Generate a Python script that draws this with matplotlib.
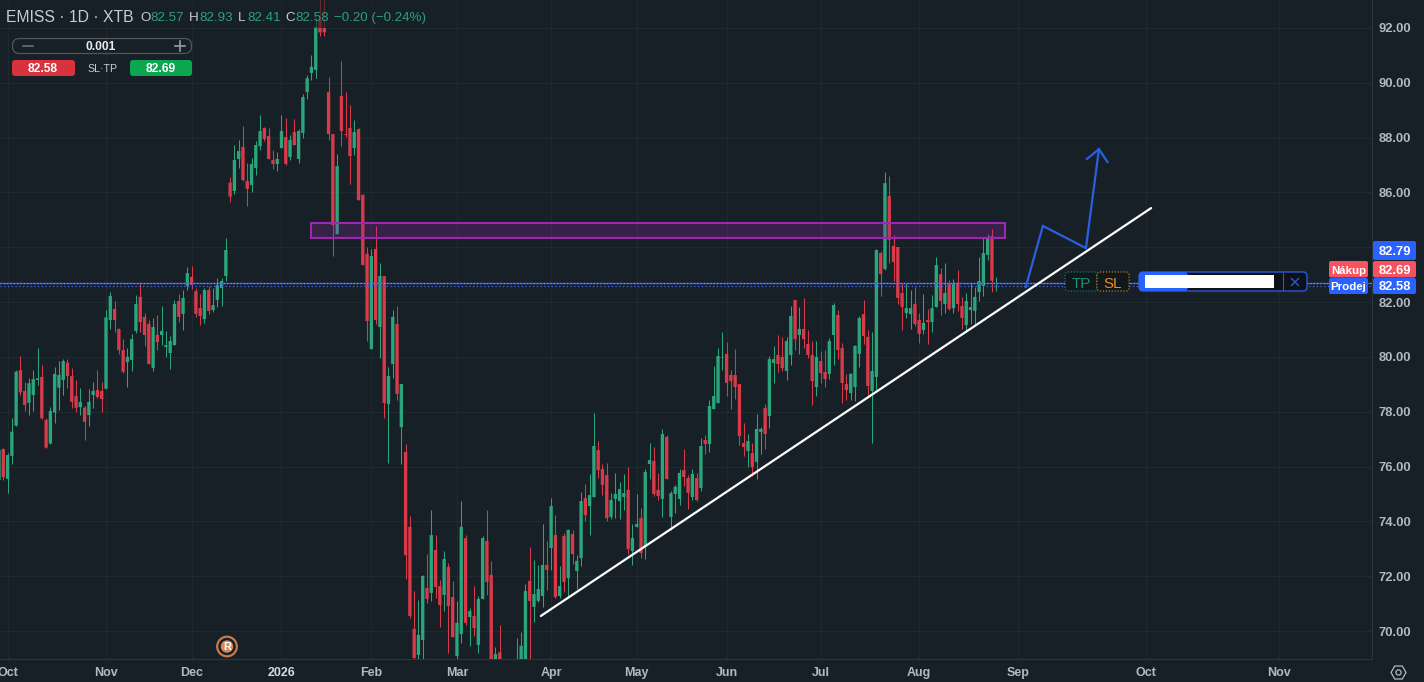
#!/usr/bin/env python3
# -*- coding: utf-8 -*-
"""EMISS 1D candles with the trading overlay, saved as out.png."""

import matplotlib

matplotlib.use("Agg")
import matplotlib.pyplot as plt
import numpy as np
from matplotlib.patches import Circle, FancyBboxPatch, Rectangle, RegularPolygon

opens = [
    75.51, 76.64, 75.55, 76.39, 77.49, 79.52, 78.76, 78.33, 78.61, 79.16, 79.27, 77.70, 76.84, 77.97, 78.88, 79.16,
    79.79, 79.30, 78.57, 78.17, 78.15, 77.88, 78.61, 78.79, 78.76, 78.84, 81.35, 81.75, 81.02, 80.25, 79.81, 79.89,
    80.95, 82.19, 81.46, 81.20, 79.60, 80.80, 80.80, 80.36, 80.14, 80.43, 82.04, 81.57, 82.59, 82.92, 82.40, 81.78,
    81.38, 82.44, 81.71, 82.08, 82.51, 82.95, 86.36, 86.05, 87.22, 87.66, 86.42, 86.27, 86.89, 87.69, 88.35, 88.06,
    87.18, 87.04, 87.62, 88.02, 87.29, 88.20, 87.22, 88.17, 89.66, 90.36, 90.47, 92.29, 92.00, 89.66, 88.13, 84.48,
    89.52, 88.13, 88.35, 87.62, 88.31, 85.91, 83.76, 80.29, 83.94, 81.09, 82.95, 78.28, 79.74, 81.20, 77.44, 76.53,
    73.80, 70.08, 69.13, 69.67, 71.57, 71.39, 72.96, 71.64, 71.32, 72.34, 71.24, 69.09, 69.89, 73.39, 70.51, 70.55,
    69.49, 71.17, 73.29, 72.05, 68.70, 69.23, 68.70, 68.00, 68.10, 68.30, 68.70, 68.70, 71.83, 70.88, 71.10, 71.28,
    72.41, 73.03, 73.50, 71.28, 73.47, 71.93, 73.54, 72.19, 72.66, 74.85, 74.56, 74.89, 76.60, 75.91, 75.69, 74.16,
    74.82, 74.74, 74.89, 75.15, 72.92, 73.80, 74.12, 73.07, 76.09, 76.20, 75.15, 74.82, 77.08, 74.16, 75.00, 74.82,
    75.87, 75.58, 74.89, 75.58, 75.22, 76.97, 76.82, 78.10, 78.32, 79.96, 80.11, 79.34, 79.34, 79.01, 76.86, 76.57,
    76.49, 76.17, 77.26, 78.14, 77.84, 79.78, 80.07, 80.00, 79.49, 80.07, 82.08, 80.80, 81.02, 80.47, 80.07, 78.90,
    79.85, 79.45, 79.38, 80.80, 81.53, 80.32, 79.01, 78.68, 78.90, 80.11, 81.56, 80.73, 78.76, 79.27, 83.79, 83.21,
    85.87, 84.05, 84.01, 82.33, 81.60, 81.56, 81.93, 81.35, 80.98, 81.35, 81.27, 81.82, 83.02, 81.93, 82.66, 81.78,
    82.70, 81.86, 81.16, 81.71, 81.68, 82.37, 82.59, 83.72, 84.41, 82.57,
]
highs = [
    76.60, 76.67, 76.48, 77.76, 79.52, 80.03, 79.10, 79.22, 79.52, 80.33, 79.71, 77.76, 78.19, 79.62, 79.85, 79.91,
    79.91, 79.58, 79.16, 78.87, 78.21, 78.83, 79.07, 79.52, 79.08, 81.71, 82.37, 82.04, 81.05, 80.65, 80.33, 80.84,
    82.26, 82.71, 81.59, 81.35, 81.42, 81.53, 81.86, 80.95, 80.76, 82.08, 82.30, 82.44, 83.28, 83.32, 82.51, 82.30,
    82.51, 82.59, 82.50, 82.88, 82.88, 84.34, 86.58, 87.73, 87.91, 88.42, 87.06, 87.26, 87.88, 88.82, 88.39, 88.35,
    87.55, 87.47, 88.82, 88.72, 88.09, 88.68, 88.31, 89.59, 90.28, 91.01, 92.40, 93.20, 93.20, 90.21, 88.13, 87.40,
    90.79, 89.66, 89.19, 88.64, 88.35, 85.94, 84.02, 83.94, 84.78, 83.43, 82.95, 79.63, 81.71, 81.86, 79.01, 76.82,
    74.19, 71.46, 71.13, 72.05, 72.81, 74.42, 73.50, 71.86, 72.92, 72.48, 71.83, 71.10, 74.74, 73.50, 70.84, 71.64,
    71.28, 73.47, 74.42, 72.56, 69.42, 70.22, 68.90, 68.80, 68.90, 69.73, 69.97, 71.72, 73.07, 72.59, 72.41, 73.91,
    73.29, 74.85, 74.23, 72.37, 73.58, 73.72, 73.69, 72.77, 75.07, 75.36, 75.73, 77.95, 76.93, 76.09, 76.13, 75.03,
    75.77, 75.44, 75.73, 75.98, 73.91, 74.99, 74.49, 75.91, 76.86, 76.71, 75.77, 77.37, 77.15, 75.11, 75.33, 75.91,
    76.64, 75.69, 75.91, 75.77, 77.04, 77.15, 78.43, 79.67, 80.32, 80.91, 80.54, 79.52, 80.29, 79.01, 77.59, 77.19,
    76.86, 77.92, 77.44, 78.28, 80.03, 80.40, 80.80, 80.73, 80.73, 81.86, 82.08, 81.82, 82.15, 80.98, 80.58, 80.58,
    80.22, 80.25, 80.69, 81.97, 81.71, 80.51, 79.38, 79.41, 80.43, 81.49, 82.08, 80.98, 80.91, 83.94, 83.86, 86.75,
    86.60, 84.45, 84.01, 82.70, 82.70, 82.44, 82.55, 81.60, 82.30, 81.75, 82.26, 83.64, 83.24, 83.43, 82.81, 82.84,
    83.17, 82.19, 82.33, 82.70, 82.55, 83.64, 84.34, 84.48, 84.67, 82.93,
]
lows = [
    74.60, 75.51, 75.02, 76.09, 77.49, 78.61, 78.03, 77.88, 78.03, 78.98, 77.72, 76.69, 76.84, 77.60, 78.06, 78.61,
    78.85, 78.15, 77.99, 77.88, 76.97, 77.48, 78.15, 78.50, 77.99, 78.84, 81.02, 80.91, 80.11, 79.41, 78.90, 79.49,
    80.87, 80.91, 80.40, 79.74, 79.49, 80.25, 80.43, 80.00, 79.56, 80.43, 81.27, 80.98, 82.44, 82.48, 81.46, 81.16,
    81.24, 81.57, 81.64, 81.82, 81.86, 82.77, 85.66, 85.94, 86.89, 86.42, 85.51, 86.02, 86.64, 87.55, 87.88, 87.22,
    86.85, 86.78, 87.62, 87.00, 87.18, 87.73, 87.07, 87.99, 89.41, 90.10, 90.17, 91.71, 91.71, 87.91, 83.68, 84.48,
    87.69, 88.03, 86.31, 87.37, 85.72, 83.35, 80.58, 80.29, 81.20, 79.96, 77.77, 76.13, 79.23, 78.43, 76.10, 71.90,
    70.48, 68.90, 68.90, 68.90, 71.02, 71.09, 71.21, 70.15, 70.73, 69.20, 69.78, 68.98, 69.56, 70.22, 69.45, 69.82,
    69.20, 71.17, 71.32, 68.60, 68.50, 68.50, 67.90, 67.80, 67.90, 68.10, 68.50, 68.50, 68.50, 70.33, 71.06, 70.88,
    71.50, 72.23, 71.21, 71.21, 71.42, 71.21, 72.45, 71.53, 72.37, 74.01, 73.50, 74.89, 75.58, 74.96, 74.01, 74.09,
    74.12, 74.09, 74.42, 72.81, 72.41, 73.80, 72.66, 72.63, 75.55, 74.93, 74.78, 74.16, 75.55, 73.69, 74.31, 74.60,
    75.29, 74.45, 74.78, 74.74, 75.11, 76.46, 76.53, 78.10, 78.32, 79.52, 78.57, 78.10, 78.46, 76.79, 76.38, 75.98,
    75.65, 75.55, 76.46, 76.64, 77.41, 79.05, 79.45, 79.49, 79.16, 79.70, 80.25, 80.11, 80.32, 79.96, 78.25, 78.57,
    79.05, 78.90, 79.19, 79.70, 79.92, 78.32, 78.43, 78.43, 78.39, 79.63, 80.47, 78.61, 76.86, 78.79, 82.22, 83.17,
    83.43, 82.77, 81.93, 80.98, 81.42, 81.02, 81.13, 80.51, 80.84, 80.47, 80.91, 81.82, 81.53, 81.60, 81.71, 81.60,
    81.68, 81.02, 80.91, 81.20, 81.16, 82.04, 82.22, 83.53, 82.37, 82.41,
]
closes = [
    76.60, 75.61, 76.42, 77.27, 79.46, 78.71, 78.25, 79.04, 79.19, 79.22, 77.76, 76.69, 78.03, 79.38, 79.34, 79.85,
    79.30, 78.36, 78.14, 78.36, 77.63, 78.36, 78.76, 78.54, 78.46, 81.44, 82.22, 81.35, 80.25, 79.46, 80.00, 80.65,
    81.93, 81.27, 80.80, 79.74, 81.09, 80.54, 80.95, 80.43, 80.58, 81.93, 81.46, 82.15, 83.06, 82.62, 81.57, 81.49,
    82.44, 81.68, 81.89, 82.62, 82.77, 83.90, 85.85, 87.18, 87.51, 86.45, 86.13, 87.04, 87.73, 88.24, 87.95, 87.22,
    87.04, 87.22, 88.24, 87.04, 87.91, 87.73, 88.24, 89.48, 90.17, 90.58, 92.05, 91.84, 91.84, 88.13, 84.81, 86.96,
    88.24, 88.10, 87.33, 88.20, 85.72, 83.35, 81.31, 83.68, 81.35, 82.95, 78.32, 79.30, 81.46, 78.65, 79.01, 72.77,
    70.55, 69.02, 69.86, 72.01, 71.17, 73.50, 71.61, 70.95, 72.63, 70.91, 69.78, 70.30, 73.80, 70.30, 70.73, 70.11,
    71.17, 73.39, 71.79, 68.70, 69.16, 68.80, 68.10, 68.50, 68.60, 68.80, 69.46, 71.46, 71.10, 71.35, 71.53, 72.41,
    72.23, 74.56, 71.24, 71.64, 71.79, 73.69, 72.81, 72.56, 74.74, 74.23, 74.96, 76.75, 75.87, 75.33, 74.12, 74.78,
    75.00, 75.18, 75.03, 72.99, 73.39, 73.91, 72.85, 75.80, 76.24, 75.00, 74.93, 77.19, 75.55, 75.03, 75.26, 75.77,
    75.62, 75.04, 75.73, 74.78, 76.75, 76.82, 78.21, 78.57, 80.03, 79.98, 79.05, 79.12, 78.90, 77.11, 76.71, 76.93,
    75.98, 77.37, 77.37, 77.19, 79.92, 79.92, 79.74, 79.59, 80.58, 81.49, 80.65, 81.02, 80.65, 80.07, 79.12, 80.00,
    79.41, 79.19, 80.58, 81.89, 80.25, 79.05, 78.79, 79.38, 80.40, 81.42, 80.76, 78.94, 79.49, 83.90, 83.02, 86.34,
    84.27, 83.46, 82.15, 81.82, 81.78, 81.78, 81.20, 80.84, 81.24, 81.27, 81.78, 83.35, 82.04, 82.33, 81.75, 82.70,
    81.93, 81.42, 82.04, 81.82, 82.19, 82.77, 83.79, 84.37, 82.78, 82.58,
]

month_positions = [2, 25, 45, 66, 87, 107, 129, 149, 170, 192, 215, 238, 268, 299]
month_labels = ["Oct", "Nov", "Dec", "2026", "Feb", "Mar", "Apr", "May", "Jun", "Jul", "Aug", "Sep", "Oct", "Nov"]
price_ticks = [70, 72, 74, 76, 78, 80, 82, 84, 86, 88, 90, 92]
hidden_price_labels = [84]  # sits under the 82.79 tag in the terminal

ask_price = 82.69
bid_price = 82.58

zone_x = [72.9, 235.0]
zone_y = [84.32, 84.90]
trend_x = [126.6, 269.2]
trend_y = [70.55, 85.43]
path_x = [239.9, 243.9, 253.96, 257.0]
path_y = [82.55, 84.78, 83.97, 87.58]
arrow_x = [254.2, 257.0, 259.0]
arrow_y = [87.22, 87.58, 87.11]

BG = "#172026"
GRID = "#1f2a30"
EDGE = "#2b353b"
UP = "#2ba57b"
DOWN = "#d93a4a"
BLUE = "#2962ff"
LINE_BLUE = "#2a5fe0"
LABEL = "#b4b8bf"
FONT = "Liberation Sans"

plt.rcParams["font.family"] = [FONT, "DejaVu Sans"]


def px(size):
    return size * 0.72


def draw_candles(ax):
    x = np.arange(len(opens))
    o, h, l, c = map(np.array, (opens, highs, lows, closes))
    colors = np.where(c >= o, UP, DOWN)
    ax.vlines(x, l, h, colors=colors, linewidth=0.75, zorder=3)
    bars = ax.bar(x, np.abs(c - o), bottom=np.minimum(o, c), width=0.78, color=colors, linewidth=0, zorder=4)
    for bar in bars:
        bar.set_snap(False)


def draw_chart(fig):
    ax = fig.add_axes([0, 23 / 682, 1372 / 1424, 659 / 682])
    ax.set_facecolor(BG)
    ax.set_xlim(0.229, 320.8)
    ax.set_ylim(68.98, 93.02)
    ax.grid(True, color=GRID, linewidth=0.8, zorder=0)
    ax.set_axisbelow(True)
    for side in ("top", "left"):
        ax.spines[side].set_visible(False)
    for side in ("right", "bottom"):
        ax.spines[side].set_color(EDGE)
        ax.spines[side].set_linewidth(0.8)

    ax.set_xticks(month_positions)
    ax.set_xticklabels(month_labels, fontsize=px(12.5), color=LABEL, fontweight="bold")
    for tick in ax.get_xticklabels():
        if tick.get_text() == "2026":
            tick.set_color("#d8dadd")
    ax.yaxis.tick_right()
    ax.set_yticks(price_ticks)
    ax.set_yticklabels(
        ["" if v in hidden_price_labels else f"{v:.2f}" for v in price_ticks],
        fontsize=px(13),
        color=LABEL,
        fontweight="bold",
        va="center_baseline",
    )
    ax.tick_params(axis="x", length=0, pad=6)
    ax.tick_params(axis="y", length=0, pad=5)

    draw_candles(ax)

    ax.add_patch(
        Rectangle(
            (zone_x[0], zone_y[0]),
            zone_x[1] - zone_x[0],
            zone_y[1] - zone_y[0],
            facecolor="#9c27b0",
            alpha=0.25,
            linewidth=0,
            zorder=5,
        )
    )
    ax.add_patch(
        Rectangle(
            (zone_x[0], zone_y[0]),
            zone_x[1] - zone_x[0],
            zone_y[1] - zone_y[0],
            facecolor="none",
            edgecolor="#9c27b0",
            linewidth=1.5,
            zorder=5,
        )
    )

    ax.axhline(ask_price, color="#3f51d6", linewidth=1.0, zorder=6)
    ax.axhline(ask_price, color="#9a9af5", linewidth=0.8, linestyle=(0, (1, 2)), zorder=6)
    ax.axhline(bid_price, color="#3d6bf0", linewidth=0.9, linestyle=(0, (1, 2)), zorder=6)

    ax.plot(trend_x, trend_y, color="white", linewidth=1.6, solid_capstyle="round", zorder=7)
    ax.plot(path_x, path_y, color=LINE_BLUE, linewidth=1.6, solid_joinstyle="miter", zorder=7)
    ax.plot(arrow_x, arrow_y, color=LINE_BLUE, linewidth=1.6, solid_joinstyle="miter", zorder=7)
    return ax


def rounded(ov, x0, y0, x1, y1, r, **kw):
    ov.add_patch(
        FancyBboxPatch(
            (x0 + r, y0 + r),
            x1 - x0 - 2 * r,
            y1 - y0 - 2 * r,
            boxstyle=f"round,pad={r},rounding_size={r}",
            **kw,
        )
    )


def label(ov, x, y, s, size, color, weight="normal", ha="center"):
    ov.text(x, y, s, fontsize=px(size), color=color, fontweight=weight, ha=ha, va="center_baseline")


def draw_overlay(fig):
    ov = fig.add_axes([0, 0, 1, 1], facecolor="none")
    ov.set_xlim(0, 1424)
    ov.set_ylim(682, 0)
    ov.axis("off")

    # header with a faded strip under it
    ov.add_patch(Rectangle((0, 0), 430, 28, facecolor=BG, alpha=0.6, linewidth=0))
    label(ov, 6, 16, "EMISS · 1D · XTB", 15.8, "#c8ccd2", ha="left")
    green = "#2f9e78"
    for x, s, c in [
        (140, "O", "#c8ccd2"),
        (150, "82.57", green),
        (189, "H", "#c8ccd2"),
        (199, "82.93", green),
        (238, "L", "#c8ccd2"),
        (247, "82.41", green),
        (285, "C", "#c8ccd2"),
        (295, "82.58", green),
        (334, "−0.20 (−0.24%)", green),
    ]:
        label(ov, x, 16.5, s, 13.4, c, ha="left")

    # lot widget
    rounded(ov, 12.5, 38.5, 191.5, 53.5, 7, facecolor="none", edgecolor="#50565c", linewidth=0.9)
    ov.plot([23, 33], [46, 46], color="#6a7076", linewidth=1.2)
    ov.plot([175, 185], [46, 46], color="#9a9ea4", linewidth=1.2)
    ov.plot([180, 180], [41, 51], color="#9a9ea4", linewidth=1.2)
    label(ov, 101, 46, "0.001", 12, "#e8eaed", "bold")
    rounded(ov, 12, 60, 75, 76, 3, facecolor="#d6333f", edgecolor="none")
    rounded(ov, 130, 60, 192, 76, 3, facecolor="#0aa650", edgecolor="none")
    label(ov, 43, 68, "82.58", 12, "white", "bold")
    label(ov, 161, 68, "82.69", 12, "white", "bold")
    label(ov, 102, 68, "SL·TP", 10.5, "#c8ccd2")

    # R badge
    ov.add_patch(Circle((227, 646.5), 9.8, facecolor=BG, edgecolor="#c9794a", linewidth=1.6))
    ov.add_patch(Circle((227, 646.5), 6.2, facecolor="#d98a5c", edgecolor="none"))
    label(ov, 227, 646.5, "R", 11, "white", "bold")

    # TP / SL chips
    rounded(ov, 1065, 272, 1097, 291, 3, facecolor="#11181b", edgecolor="#1f8f70", linewidth=0.8, linestyle=":")
    rounded(ov, 1097, 272, 1129, 291, 3, facecolor="#11181b", edgecolor="#e8912d", linewidth=0.8, linestyle=":")
    label(ov, 1081, 282, "TP", 15, "#1f8f70")
    label(ov, 1113, 282, "SL", 15, "#e8912d")

    # order box, the name part is blanked with a white bar
    rounded(ov, 1139, 272, 1307, 291, 4, facecolor="#0d1216", edgecolor="#2c56d8", linewidth=1.0)
    rounded(ov, 1139, 272, 1188, 291, 4, facecolor=BLUE, edgecolor="none")
    ov.add_patch(Rectangle((1188, 273), 90, 17, facecolor="#0d1216", linewidth=0))
    ov.add_patch(Rectangle((1145, 275), 129, 13, facecolor="white", linewidth=0))
    ov.plot([1283, 1283], [273, 290], color="#2c56d8", linewidth=0.8)
    ov.plot([1291.5, 1298.5], [278.5, 285.5], color="#2c56d8", linewidth=1.0)
    ov.plot([1291.5, 1298.5], [285.5, 278.5], color="#2c56d8", linewidth=1.0)

    # price tags
    tag_blue = "#2962ff"
    tag_red = "#f7525f"
    rounded(ov, 1373, 241, 1416, 260, 2, facecolor=tag_blue, edgecolor="none")
    rounded(ov, 1373, 261, 1416, 277.5, 2, facecolor=tag_red, edgecolor="none")
    rounded(ov, 1373, 278, 1416, 294, 2, facecolor=tag_blue, edgecolor="none")
    rounded(ov, 1329, 261, 1368, 277.5, 2, facecolor=tag_red, edgecolor="none")
    rounded(ov, 1329, 278, 1368, 294, 2, facecolor=tag_blue, edgecolor="none")
    label(ov, 1394.5, 250.5, "82.79", 13, "white", "bold")
    label(ov, 1394.5, 269.5, "82.69", 13, "white", "bold")
    label(ov, 1394.5, 286, "82.58", 13, "white", "bold")
    label(ov, 1348.5, 269.5, "Nákup", 11.5, "white", "bold")
    label(ov, 1348.5, 286, "Prodej", 11.5, "white", "bold")

    # settings icon
    ov.add_patch(
        RegularPolygon((1398.5, 672.5), 6, radius=7.5, orientation=np.pi / 6, facecolor="none",
                       edgecolor="#b4b8bf", linewidth=0.9)
    )
    ov.add_patch(Circle((1398.5, 672.5), 2.6, facecolor="none", edgecolor="#b4b8bf", linewidth=0.9))


def main():
    fig = plt.figure(figsize=(14.24, 6.82), dpi=100, facecolor=BG)
    draw_chart(fig)
    draw_overlay(fig)
    fig.savefig("out.png", dpi=100, facecolor=BG)


if __name__ == "__main__":
    main()
